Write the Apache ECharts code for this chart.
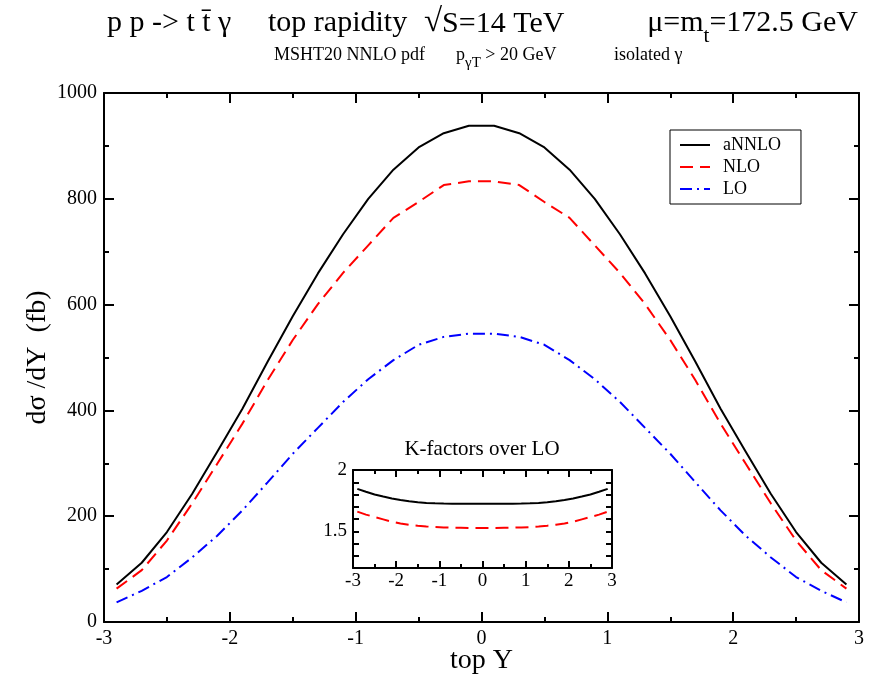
<!DOCTYPE html>
<html>
<head>
<meta charset="utf-8">
<script src="https://cdn.jsdelivr.net/npm/echarts@6/dist/echarts.min.js"></script>
<style>html,body{margin:0;padding:0;background:#fff}#c{width:881px;height:677px}</style>
</head>
<body>
<div id="c"></div>
<script>
// ---- data ----
const rapidity = [-2.9,-2.7,-2.5,-2.3,-2.1,-1.9,-1.7,-1.5,-1.3,-1.1,-0.9,-0.7,-0.5,-0.3,-0.1,
                  0.1,0.3,0.5,0.7,0.9,1.1,1.3,1.5,1.7,1.9,2.1,2.3,2.5,2.7,2.9];
const aNNLO = [71,112,170,242,322,403,492,578,659,733,800,855,897,924,938,
               938,924,897,855,800,733,659,578,492,403,322,242,170,112,71];
const NLO   = [63,98,154,224,299,375,457,533,601,660,712,764,794,826,833,
               833,826,794,764,712,660,601,533,457,375,299,224,154,98,63];
const LO    = [37,59,85,122,163,211,264,318,367,416,459,495,524,539,545,
               545,539,524,495,459,416,367,318,264,211,163,122,85,59,37];
const kANNLO = [1.846,1.822,1.800,1.783,1.767,1.755,1.744,1.736,1.731,1.728,1.726,1.725,1.724,1.724,1.724,
                1.724,1.724,1.724,1.725,1.726,1.728,1.731,1.736,1.744,1.755,1.767,1.783,1.800,1.822,1.846];
const kNLO   = [1.660,1.636,1.616,1.597,1.578,1.564,1.553,1.545,1.539,1.534,1.531,1.529,1.528,1.527,1.527,
                1.527,1.527,1.528,1.529,1.531,1.534,1.539,1.545,1.553,1.564,1.578,1.597,1.616,1.636,1.660];
const seriesNames = ['aNNLO','NLO','LO'];
const mainXTicks = {min:-3, max:3, interval:1};
const mainYTicks = {min:0, max:1000, interval:200};
const insetXTicks = {min:-3, max:3, interval:1};
const insetYTicks = {min:1.2, max:2.0, interval:0.1};
const insetYLabels = {'1.5':'1.5','2':'2'};

const FONT = 'Liberation Serif';
const pairs = (xs, ys) => xs.map((x,i)=>[x, ys[i]]);

function axisBase(opt){
  return Object.assign({
    type:'value',
    nameMoveOverlap:false,
    axisLine:{show:true, onZero:false, lineStyle:{color:'#000', width:2}},
    axisTick:{show:true, inside:true, length:10, lineStyle:{color:'#000', width:2}},
    minorTick:{show:true, splitNumber:2, length:5, lineStyle:{color:'#000', width:2}},
    splitLine:{show:false},
    minorSplitLine:{show:false},
    axisLabel:{show:true, color:'#000', fontFamily:FONT, fontSize:20},
  }, opt);
}

const chart = echarts.init(document.getElementById('c'), null, {renderer:'canvas'});
const option = {
  backgroundColor:'#fff',
  animation:false,
  grid:[
    {left:104, right:22, top:93, bottom:55, outerBoundsMode:'none', containLabel:false},
    {left:353, width:259, top:470, height:98, outerBoundsMode:'none', containLabel:false}
  ],
  legend:{
    data:seriesNames,
    orient:'vertical',
    left:670, top:130,
    borderColor:'#000', borderWidth:1,
    padding:[6,20,6,9],
    itemGap:4, itemWidth:30, itemHeight:14,
    itemStyle:{opacity:0},
    textStyle:{fontFamily:FONT, fontSize:18, color:'#000', padding:[0,0,0,8]},
    backgroundColor:'#fff'
  },
  xAxis:[
    axisBase(Object.assign({gridIndex:0, position:'bottom',
      name:'top Y', nameLocation:'middle', nameGap:25,
      nameTextStyle:{fontFamily:FONT, fontSize:28, color:'#000'},
      axisLabel:{color:'#000', fontFamily:FONT, fontSize:20, margin:7}}, mainXTicks)),
    axisBase(Object.assign({gridIndex:0, position:'top', axisLabel:{show:false}}, mainXTicks)),
    axisBase(Object.assign({gridIndex:1, position:'bottom',
      axisTick:{show:true, inside:true, length:7, lineStyle:{color:'#000', width:2}},
      minorTick:{show:true, splitNumber:2, length:4, lineStyle:{color:'#000', width:2}},
      axisLabel:{color:'#000', fontFamily:FONT, fontSize:19, margin:4}}, insetXTicks)),
    axisBase(Object.assign({gridIndex:1, position:'top', axisLabel:{show:false},
      axisTick:{show:true, inside:true, length:7, lineStyle:{color:'#000', width:2}},
      minorTick:{show:true, splitNumber:2, length:4, lineStyle:{color:'#000', width:2}}}, insetXTicks))
  ],
  yAxis:[
    axisBase(Object.assign({gridIndex:0, position:'left',
      name:'dσ /dY  (fb)', nameLocation:'middle', nameGap:52,
      nameTextStyle:{fontFamily:FONT, fontSize:28, color:'#000'},
      axisLabel:{color:'#000', fontFamily:FONT, fontSize:20, margin:7, formatter:v=>String(v)}}, mainYTicks)),
    axisBase(Object.assign({gridIndex:0, position:'right', axisLabel:{show:false}}, mainYTicks)),
    axisBase(Object.assign({gridIndex:1, position:'left',
      axisTick:{show:true, inside:true, length:6, lineStyle:{color:'#000', width:2}},
      minorTick:{show:false},
      axisLabel:{color:'#000', fontFamily:FONT, fontSize:19, margin:6,
        formatter:v=>{const k=String(Math.round(v*10)/10); return insetYLabels[k]||'';}}}, insetYTicks)),
    axisBase(Object.assign({gridIndex:1, position:'right', axisLabel:{show:false},
      axisTick:{show:true, inside:true, length:6, lineStyle:{color:'#000', width:2}},
      minorTick:{show:false}}, insetYTicks))
  ],
  series:[
    {name:seriesNames[0], type:'line', xAxisIndex:0, yAxisIndex:0, symbol:'none', smooth:false,
     data:pairs(rapidity, aNNLO), lineStyle:{color:'#000', width:2}, itemStyle:{color:'#000'}},
    {name:seriesNames[1], type:'line', xAxisIndex:0, yAxisIndex:0, symbol:'none',
     data:pairs(rapidity, NLO), lineStyle:{color:'#ff0000', width:2, type:[13,7]}, itemStyle:{color:'#ff0000'}},
    {name:seriesNames[2], type:'line', xAxisIndex:0, yAxisIndex:0, symbol:'none',
     data:pairs(rapidity, LO), lineStyle:{color:'#0000ff', width:2, type:[12,5,2,5]}, itemStyle:{color:'#0000ff'}},
    {name:'K aNNLO', type:'line', xAxisIndex:2, yAxisIndex:2, symbol:'none',
     data:pairs(rapidity, kANNLO), lineStyle:{color:'#000', width:2}},
    {name:'K NLO', type:'line', xAxisIndex:2, yAxisIndex:2, symbol:'none',
     data:pairs(rapidity, kNLO), lineStyle:{color:'#ff0000', width:2, type:[13,7]}}
  ],
  graphic:[
    {type:'text', left:107, top:8, style:{text:'p p -> t t\u0304 γ', font:'30px "Liberation Serif"', fill:'#000'}},
    {type:'text', left:268, top:8, style:{text:'top rapidity', font:'30px "Liberation Serif"', fill:'#000'}},
    {type:'text', left:424, top:6, style:{
      text:'{r|√}{a|S=14 TeV}',
      rich:{
        r:{fontFamily:FONT, fontSize:33, lineHeight:35, verticalAlign:'top', fill:'#000'},
        a:{fontFamily:FONT, fontSize:30, lineHeight:32, padding:[3,0,0,0], verticalAlign:'top', fill:'#000'}
      }}},
    {type:'text', right:23, top:8, style:{
      text:'{a|μ=m}{s|t}{a|=172.5 GeV}',
      rich:{
        a:{fontFamily:FONT, fontSize:30, lineHeight:32, verticalAlign:'top', fill:'#000'},
        s:{fontFamily:FONT, fontSize:21, lineHeight:21, padding:[18,0,0,0], verticalAlign:'top', fill:'#000'}
      }}},
    {type:'text', left:274, top:46, style:{text:'MSHT20 NNLO pdf', font:'18px "Liberation Serif"', fill:'#000'}},
    {type:'text', left:456, top:46, style:{
      text:'{a|p}{s|γT}{a| > 20 GeV}',
      rich:{
        a:{fontFamily:FONT, fontSize:18, lineHeight:19, verticalAlign:'top', fill:'#000'},
        s:{fontFamily:FONT, fontSize:15, lineHeight:15, padding:[10,0,0,0], verticalAlign:'top', fill:'#000'}
      }}},
    {type:'text', left:614, top:46, style:{text:'isolated γ', font:'18px "Liberation Serif"', fill:'#000'}},
    {type:'text', x:482, y:449, style:{text:'K-factors over LO', font:'21px "Liberation Serif"', fill:'#000', align:'center', verticalAlign:'middle'}}
  ]
};
chart.setOption(option);
</script>
</body>
</html>
